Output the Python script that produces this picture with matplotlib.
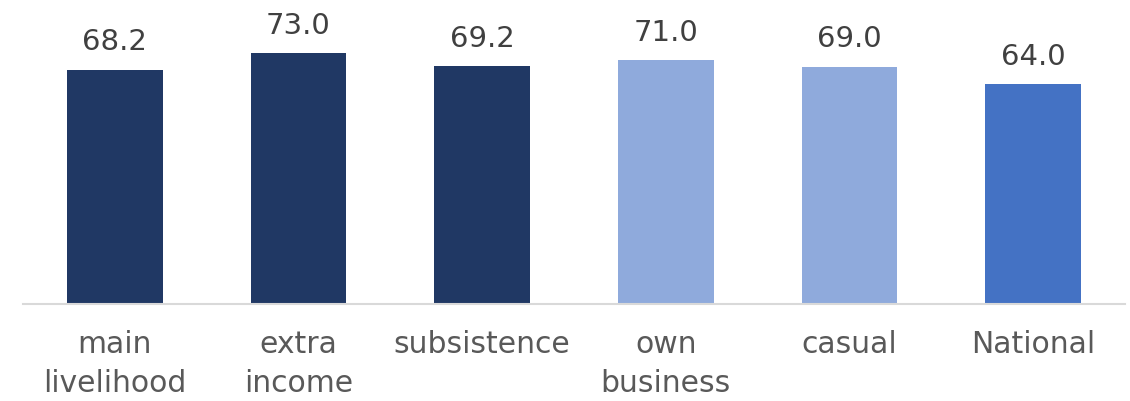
import matplotlib
matplotlib.use("Agg")
import matplotlib.pyplot as plt

categories = ["main\nlivelihood", "extra\nincome", "subsistence", "own\nbusiness", "casual", "National"]
values = [68.2, 73.0, 69.2, 71.0, 69.0, 64.0]
colors = ["#203864", "#203864", "#203864", "#8FAADC", "#8FAADC", "#4472C4"]

plt.rcParams["font.family"] = ["DejaVu Sans"]

fig = plt.figure(figsize=(11.30, 4.01), dpi=100)
ax = fig.add_axes([23 / 1130, 97 / 401, 1102 / 1130, 275 / 401])

x = range(len(categories))
bars = ax.bar(x, values, width=0.52, color=colors)
for bar, v in zip(bars, values):
    ax.text(bar.get_x() + bar.get_width() / 2, v + 3.9, f"{v:.1f}",
            ha="center", va="bottom", fontsize=21, color="#404040")

ax.set_xlim(-0.5, len(categories) - 0.5)
ax.set_ylim(0, 80)
ax.set_xticks(list(x))
ax.set_xticklabels(categories, fontsize=21.5, color="#595959", linespacing=1.4, va="top")
ax.tick_params(axis="x", length=0, pad=19)
ax.set_yticks([])
for side in ["top", "left", "right"]:
    ax.spines[side].set_visible(False)
ax.spines["bottom"].set_color("#D9D9D9")
ax.spines["bottom"].set_linewidth(1.5)

fig.savefig("out.png", dpi=100)
